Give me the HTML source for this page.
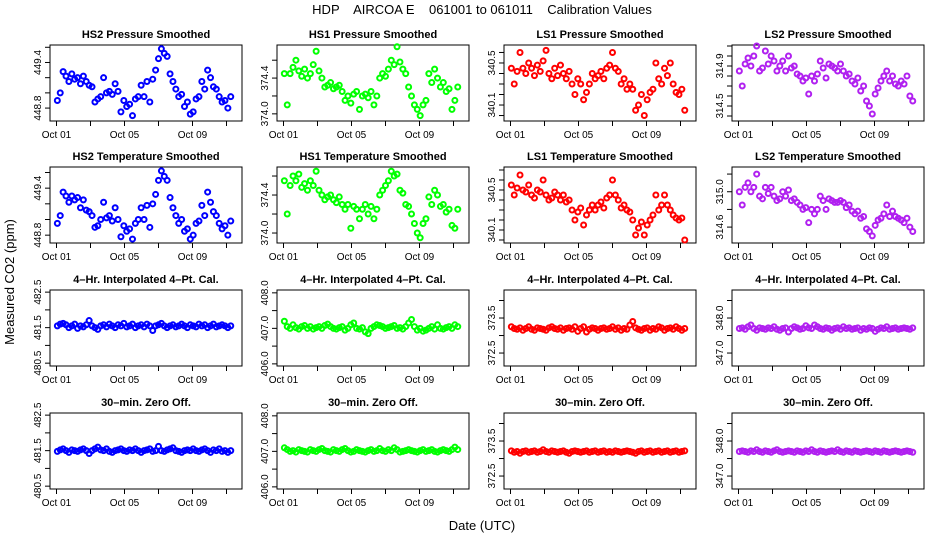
<!DOCTYPE html>
<html><head><meta charset="utf-8"><style>
body{margin:0;background:#fff;}
svg{display:block;font-family:"Liberation Sans",sans-serif;}
</style></head><body>
<svg id="chart" width="936" height="540" viewBox="0 0 936 540" xmlns="http://www.w3.org/2000/svg">
<rect width="936" height="540" fill="#fff"/>
<text x="482" y="14" text-anchor="middle" font-size="13" xml:space="preserve">HDP    AIRCOA E    061001 to 061011    Calibration Values</text>
<text transform="translate(14,282) rotate(-90)" text-anchor="middle" font-size="13">Measured CO2 (ppm)</text>
<text x="482" y="530" text-anchor="middle" font-size="13">Date (UTC)</text>
<g id="panels"></g>
</svg>
<script>
const times=[1.05,1.22,1.39,1.56,1.73,1.90,2.07,2.24,2.41,2.58,2.75,2.92,3.09,3.26,3.43,3.60,3.77,3.94,4.11,4.28,4.45,4.62,4.79,4.96,5.13,5.30,5.47,5.64,5.81,5.98,6.15,6.32,6.49,6.66,6.83,7.00,7.17,7.34,7.51,7.68,7.85,8.02,8.19,8.36,8.53,8.70,8.87,9.04,9.21,9.38,9.55,9.72,9.89,10.06,10.23,10.40,10.57,10.74,10.91,11.08,11.25];
const xTickDays=[1,3,5,7,9,11];
const xTickLabels=["Oct 01","","Oct 05","","Oct 09",""];
const hs2P=[448.90,449.00,449.28,449.22,449.15,449.25,449.18,449.20,449.12,449.22,449.15,449.10,449.08,448.88,448.92,448.95,449.20,449.00,449.02,448.98,449.12,449.02,448.75,448.90,448.82,448.85,448.70,448.92,448.95,449.10,448.95,449.15,448.88,449.18,449.30,449.45,449.58,449.52,449.48,449.25,449.15,449.05,448.95,448.98,448.82,448.88,448.72,448.75,448.92,448.95,449.15,449.05,449.30,449.20,449.08,449.05,448.95,448.88,448.90,448.80,448.95];
const hs1P=[374.45,374.10,374.45,374.52,374.60,374.48,374.42,374.50,374.40,374.45,374.55,374.70,374.48,374.40,374.30,374.32,374.35,374.28,374.30,374.32,374.25,374.15,374.20,374.12,374.22,374.25,374.05,374.20,374.22,374.18,374.25,374.10,374.20,374.40,374.45,374.42,374.50,374.60,374.55,374.75,374.58,374.50,374.45,374.30,374.20,374.10,374.05,373.98,374.10,374.15,374.45,374.35,374.50,374.40,374.30,374.35,374.25,374.28,374.05,374.15,374.30];
const ls1P=[340.45,340.30,340.42,340.60,340.45,340.40,340.50,340.45,340.38,340.48,340.42,340.52,340.62,340.40,340.35,340.45,340.38,340.48,340.40,340.35,340.42,340.30,340.20,340.35,340.30,340.15,340.22,340.30,340.40,340.35,340.38,340.42,340.35,340.45,340.48,340.60,340.45,340.42,340.30,340.35,340.25,340.30,340.25,340.05,340.10,340.20,340.00,340.15,340.22,340.25,340.50,340.35,340.30,340.45,340.38,340.50,340.30,340.22,340.20,340.25,340.05];
const ls2P=[314.85,314.70,314.92,314.98,314.90,315.00,315.10,314.85,314.88,315.05,314.92,315.00,314.95,314.85,314.90,314.95,314.85,315.00,314.88,314.90,314.82,314.80,314.75,314.78,314.62,314.80,314.75,314.82,314.95,314.88,314.78,314.92,314.90,314.88,314.85,314.92,314.85,314.80,314.82,314.75,314.72,314.78,314.65,314.70,314.55,314.50,314.42,314.62,314.68,314.75,314.80,314.85,314.75,314.80,314.72,314.70,314.75,314.72,314.80,314.60,314.55];
const hs2T=[448.95,449.05,449.35,449.30,449.22,449.30,449.25,449.28,449.15,449.25,449.12,449.10,449.05,448.90,448.92,449.00,449.22,449.02,449.05,448.98,449.15,449.00,448.78,448.92,448.85,448.88,448.75,448.95,449.00,449.15,449.00,449.18,448.90,449.20,449.32,449.50,449.62,449.55,449.50,449.28,449.15,449.05,448.95,449.00,448.85,448.88,448.75,448.80,448.95,448.98,449.18,449.05,449.35,449.22,449.10,449.05,448.95,448.88,448.92,448.80,448.98];
const hs1T=[374.55,374.20,374.50,374.60,374.55,374.62,374.48,374.52,374.45,374.55,374.50,374.65,374.45,374.40,374.35,374.38,374.40,374.35,374.32,374.38,374.30,374.25,374.30,374.05,374.28,374.25,374.15,374.25,374.30,374.20,374.28,374.15,374.25,374.40,374.45,374.50,374.55,374.65,374.60,374.62,374.45,374.42,374.30,374.28,374.20,374.10,374.00,373.95,374.10,374.15,374.38,374.30,374.45,374.40,374.28,374.30,374.22,374.25,374.08,374.05,374.25];
const ls1T=[340.55,340.45,340.52,340.65,340.50,340.48,340.55,340.45,340.42,340.50,340.48,340.60,340.45,340.40,340.42,340.48,340.45,340.40,340.45,340.38,340.40,340.30,340.20,340.28,340.32,340.15,340.25,340.30,340.35,340.30,340.35,340.38,340.32,340.42,340.45,340.60,340.45,340.40,340.32,340.35,340.30,340.28,340.20,340.05,340.12,340.18,340.05,340.15,340.20,340.25,340.45,340.30,340.35,340.45,340.35,340.30,340.25,340.22,340.20,340.22,340.00];
const ls2T=[315.00,314.85,315.05,315.10,315.00,315.05,315.20,314.95,314.92,315.05,314.98,315.05,314.95,314.90,314.92,315.00,314.95,315.02,314.90,314.92,314.88,314.85,314.80,314.82,314.65,314.80,314.75,314.80,314.95,314.90,314.80,314.92,314.90,314.88,314.88,314.90,314.88,314.82,314.85,314.78,314.75,314.78,314.70,314.72,314.58,314.55,314.50,314.62,314.68,314.70,314.75,314.85,314.72,314.78,314.72,314.70,314.68,314.65,314.70,314.60,314.55];
const hs2Cal=[481.55,481.60,481.62,481.58,481.50,481.55,481.60,481.48,481.55,481.52,481.58,481.70,481.55,481.50,481.45,481.55,481.58,481.52,481.60,481.55,481.50,481.58,481.55,481.62,481.52,481.55,481.60,481.50,481.55,481.58,481.52,481.60,481.55,481.42,481.55,481.58,481.62,481.55,481.50,481.55,481.58,481.52,481.55,481.60,481.55,481.50,481.58,481.55,481.52,481.60,481.55,481.58,481.50,481.55,481.60,481.52,481.55,481.58,481.55,481.50,481.55];
const hs1Cal=[407.20,407.05,407.00,407.10,407.02,406.98,407.05,407.08,407.00,407.05,406.98,407.02,407.05,407.00,407.08,407.12,407.05,407.00,406.98,407.02,407.05,406.95,407.00,407.10,407.15,407.00,406.98,407.02,406.90,406.85,407.00,407.05,407.10,407.08,407.05,407.00,407.02,407.05,407.08,407.00,407.02,406.98,407.05,407.15,407.25,407.05,406.95,407.00,406.92,406.95,407.00,407.05,406.98,407.10,407.00,406.98,407.02,407.05,407.00,407.10,407.05];
const ls1Cal=[373.25,373.20,373.18,373.22,373.15,373.20,373.25,373.18,373.15,373.22,373.20,373.18,373.15,373.22,373.25,373.20,373.18,373.22,373.15,373.20,373.22,373.18,373.25,373.12,373.20,373.25,373.10,373.18,373.22,373.20,373.15,373.20,373.22,373.18,373.20,373.25,373.18,373.22,373.15,373.20,373.18,373.30,373.40,373.22,373.18,373.15,373.20,373.22,373.15,373.20,373.18,373.25,373.22,373.15,373.20,373.22,373.18,373.25,373.20,373.15,373.20];
const ls2Cal=[347.70,347.72,347.68,347.75,347.80,347.70,347.65,347.72,347.70,347.68,347.72,347.70,347.75,347.68,347.65,347.70,347.72,347.60,347.70,347.75,347.72,347.68,347.70,347.78,347.72,347.70,347.80,347.75,347.70,347.68,347.72,347.70,347.65,347.70,347.72,347.68,347.75,347.70,347.72,347.68,347.70,347.72,347.65,347.70,347.68,347.72,347.70,347.62,347.68,347.72,347.70,347.75,347.68,347.70,347.72,347.68,347.70,347.72,347.70,347.68,347.72];
const hs2Zero=[481.48,481.52,481.55,481.50,481.45,481.52,481.50,481.48,481.52,481.55,481.50,481.42,481.50,481.55,481.60,481.52,481.50,481.55,481.48,481.45,481.50,481.52,481.55,481.50,481.48,481.52,481.50,481.55,481.50,481.45,481.50,481.52,481.55,481.48,481.50,481.62,481.50,481.48,481.52,481.55,481.58,481.50,481.48,481.45,481.50,481.52,481.50,481.55,481.50,481.48,481.52,481.55,481.50,481.45,481.52,481.50,481.55,481.48,481.50,481.45,481.50];
const hs1Zero=[407.10,407.05,407.00,407.02,406.98,407.05,407.02,407.00,406.98,407.05,407.02,407.00,407.05,407.08,407.02,407.00,406.98,407.05,407.02,407.00,407.05,407.08,407.02,406.98,407.00,407.05,407.02,407.00,406.98,407.02,407.05,407.00,407.02,407.08,407.02,407.00,407.05,407.02,407.10,407.05,406.98,407.00,407.02,407.05,407.02,407.00,406.98,407.02,407.05,407.00,407.02,407.05,407.00,406.98,407.02,407.05,407.02,407.00,407.05,407.12,407.05];
const ls1Zero=[373.22,373.18,373.20,373.15,373.20,373.22,373.18,373.20,373.22,373.18,373.20,373.25,373.20,373.18,373.22,373.20,373.18,373.20,373.22,373.18,373.15,373.20,373.22,373.20,373.18,373.20,373.22,373.18,373.20,373.22,373.18,373.20,373.22,373.18,373.20,373.18,373.22,373.20,373.18,373.20,373.22,373.20,373.18,373.15,373.20,373.22,373.18,373.20,373.22,373.18,373.20,373.22,373.18,373.20,373.22,373.18,373.20,373.22,373.18,373.20,373.22];
const ls2Zero=[347.70,347.72,347.70,347.68,347.72,347.70,347.75,347.70,347.68,347.72,347.70,347.68,347.72,347.75,347.70,347.68,347.70,347.72,347.70,347.68,347.72,347.70,347.68,347.72,347.70,347.75,347.70,347.68,347.72,347.70,347.68,347.70,347.72,347.70,347.75,347.70,347.68,347.72,347.70,347.68,347.72,347.70,347.68,347.70,347.72,347.70,347.68,347.72,347.70,347.68,347.72,347.70,347.68,347.70,347.72,347.70,347.68,347.70,347.72,347.70,347.68];

const BLUE="#0000ff",GREEN="#00ff00",RED="#ff0000",PURP="#b020f0";
const panels=[
 {name:"hs2-pressure",title:"HS2 Pressure Smoothed",col:0,row:0,data:hs2P,color:BLUE,yr:[448.63,449.63],ticks:[448.8,449.0,449.2,449.4,449.6],labels:["448.8","","","449.4",""]},
 {name:"hs1-pressure",title:"HS1 Pressure Smoothed",col:1,row:0,data:hs1P,color:GREEN,yr:[373.92,374.77],ticks:[374.0,374.2,374.4,374.6],labels:["374.0","","374.4",""]},
 {name:"ls1-pressure",title:"LS1 Pressure Smoothed",col:2,row:0,data:ls1P,color:RED,yr:[339.948,340.671],ticks:[340.0,340.1,340.2,340.3,340.4,340.5,340.6],labels:["","340.1","","","","340.5",""]},
 {name:"ls2-pressure",title:"LS2 Pressure Smoothed",col:3,row:0,data:ls2P,color:PURP,yr:[314.35,315.11],ticks:[314.4,314.5,314.6,314.7,314.8,314.9,315.0,315.1],labels:["","314.5","","","","314.9","",""]},
 {name:"hs2-temperature",title:"HS2 Temperature Smoothed",col:0,row:1,data:hs2T,color:BLUE,yr:[448.7,449.67],ticks:[448.8,449.0,449.2,449.4,449.6],labels:["448.8","","","449.4",""]},
 {name:"hs1-temperature",title:"HS1 Temperature Smoothed",col:1,row:1,data:hs1T,color:GREEN,yr:[373.895,374.695],ticks:[374.0,374.2,374.4,374.6],labels:["374.0","","374.4",""]},
 {name:"ls1-temperature",title:"LS1 Temperature Smoothed",col:2,row:1,data:ls1T,color:RED,yr:[339.97,340.73],ticks:[340.0,340.1,340.2,340.3,340.4,340.5,340.6,340.7],labels:["","340.1","","","","340.5","",""]},
 {name:"ls2-temperature",title:"LS2 Temperature Smoothed",col:3,row:1,data:ls2T,color:PURP,yr:[314.42,315.28],ticks:[314.6,314.8,315.0,315.2],labels:["314.6","","315.0",""]},
 {name:"hs2-cal",title:"4\u2013Hr. Interpolated 4\u2013Pt. Cal.",col:0,row:2,data:hs2Cal,color:BLUE,yr:[480.42,482.56],ticks:[480.5,481,481.5,482,482.5],labels:["480.5","","481.5","","482.5"]},
 {name:"hs1-cal",title:"4\u2013Hr. Interpolated 4\u2013Pt. Cal.",col:1,row:2,data:hs1Cal,color:GREEN,yr:[405.94,408.08],ticks:[406,406.5,407,407.5,408],labels:["406.0","","407.0","","408.0"]},
 {name:"ls1-cal",title:"4\u2013Hr. Interpolated 4\u2013Pt. Cal.",col:2,row:2,data:ls1Cal,color:RED,yr:[372.13,374.3],ticks:[372.5,373,373.5,374],labels:["372.5","","373.5",""]},
 {name:"ls2-cal",title:"4\u2013Hr. Interpolated 4\u2013Pt. Cal.",col:3,row:2,data:ls2Cal,color:PURP,yr:[346.63,348.8],ticks:[347,347.5,348,348.5],labels:["347.0","","348.0",""]},
 {name:"hs2-zero",title:"30\u2013min. Zero Off.",col:0,row:3,data:hs2Zero,color:BLUE,yr:[480.42,482.56],ticks:[480.5,481,481.5,482,482.5],labels:["480.5","","481.5","","482.5"]},
 {name:"hs1-zero",title:"30\u2013min. Zero Off.",col:1,row:3,data:hs1Zero,color:GREEN,yr:[405.94,408.08],ticks:[406,406.5,407,407.5,408],labels:["406.0","","407.0","","408.0"]},
 {name:"ls1-zero",title:"30\u2013min. Zero Off.",col:2,row:3,data:ls1Zero,color:RED,yr:[372.13,374.3],ticks:[372.5,373,373.5,374],labels:["372.5","","373.5",""]},
 {name:"ls2-zero",title:"30\u2013min. Zero Off.",col:3,row:3,data:ls2Zero,color:PURP,yr:[346.63,348.8],ticks:[347,347.5,348,348.5],labels:["347.0","","348.0",""]}
];
const colLeft=[50,277,504,732], rowTop=[45,167,290,413], W=192, H=76;
const NS="http://www.w3.org/2000/svg";
const root=document.getElementById("panels");
function mk(tag,attrs,parent){const e=document.createElementNS(NS,tag);for(const k in attrs)e.setAttribute(k,attrs[k]);parent.appendChild(e);return e;}
panels.forEach(p=>{
  const L=colLeft[p.col],T=rowTop[p.row];
  const xs=d=>L+6.5+(d-1)*17;
  const ys=v=>T+H-(v-p.yr[0])/(p.yr[1]-p.yr[0])*H;
  const g=mk("g",{},root);
  
  
  const t=mk("text",{x:L+W/2,y:T-7,"text-anchor":"middle","font-size":"11","font-weight":"bold"},g);
  
  
  t.textContent=p.title;
  const box=mk("rect",{x:L,y:T,width:W,height:H,fill:"none",stroke:"#000","stroke-width":"1"},g);
  
  
  const xa=mk("g",{},g);
  
  
  xTickDays.forEach((d,i)=>{
    const x=xs(d);
    mk("line",{x1:x,x2:x,y1:T+H,y2:T+H+5,stroke:"#000"},xa);
    if(xTickLabels[i]){const lt=mk("text",{x:x,y:T+H+17,"text-anchor":"middle","font-size":"10"},xa);
      
      
      lt.textContent=xTickLabels[i];}
  });
  const ya=mk("g",{},g);
  
  
  p.ticks.forEach((v,i)=>{
    const y=ys(v);
    mk("line",{x1:L-5,x2:L,y1:y,y2:y,stroke:"#000"},ya);
    if(p.labels[i]){const lt=mk("text",{transform:`translate(${L-9},${y}) rotate(-90)`,"text-anchor":"middle","font-size":"10"},ya);
      
      
      lt.textContent=p.labels[i];}
  });
  const pts=mk("g",{fill:"none",stroke:p.color,"stroke-width":"2"},g);
  
  
  const n=Math.min(times.length,p.data.length);
  for(let i=0;i<n;i++){
    const c=mk("circle",{cx:xs(times[i]),cy:ys(p.data[i]),r:2.5},pts);
    
    
  }
});
</script>
</body></html>
